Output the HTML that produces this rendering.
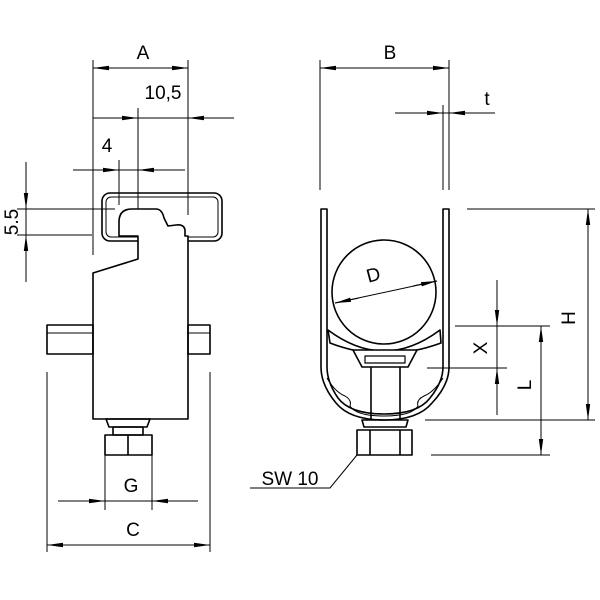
<!DOCTYPE html>
<html><head><meta charset="utf-8"><style>
html,body{margin:0;padding:0;background:#fff;width:600px;height:600px;overflow:hidden}
svg{display:block}
text{font-family:"Liberation Sans",sans-serif;font-size:19px;fill:#000}
</style></head><body>
<svg width="600" height="600" viewBox="0 0 600 600" xmlns="http://www.w3.org/2000/svg">
<defs>
<marker id="a" viewBox="0 0 16 6" refX="16" refY="3" markerWidth="16" markerHeight="6" markerUnits="userSpaceOnUse" orient="auto"><path d="M0,0.8 L16,3 L0,5.2 Z" fill="#000"/></marker>
</defs>
<g stroke="#000" stroke-width="1" fill="none">
<line x1="93" y1="60" x2="93" y2="255"/>
<line x1="188" y1="60" x2="188" y2="215"/>
<line x1="93" y1="68" x2="188" y2="68"/>
<line x1="117" y1="68" x2="93" y2="68" marker-end="url(#a)"/>
<line x1="164" y1="68" x2="188" y2="68" marker-end="url(#a)"/>
<line x1="93" y1="118" x2="234" y2="118"/>
<line x1="112" y1="118" x2="138" y2="118" marker-end="url(#a)"/>
<line x1="214" y1="118" x2="188" y2="118" marker-end="url(#a)"/>
<line x1="138" y1="108" x2="138" y2="220"/>
<line x1="73" y1="170" x2="185" y2="170"/>
<line x1="95" y1="170" x2="119" y2="170" marker-end="url(#a)"/>
<line x1="162" y1="170" x2="138" y2="170" marker-end="url(#a)"/>
<line x1="119" y1="160" x2="119" y2="205"/>
<line x1="26" y1="162" x2="26" y2="282"/>
<line x1="26" y1="185" x2="26" y2="209" marker-end="url(#a)"/>
<line x1="26" y1="259" x2="26" y2="235" marker-end="url(#a)"/>
<line x1="17" y1="209" x2="115" y2="209"/>
<line x1="17" y1="235" x2="92" y2="235"/>
<line x1="58" y1="501" x2="198" y2="501"/>
<line x1="81" y1="501" x2="105" y2="501" marker-end="url(#a)"/>
<line x1="176" y1="501" x2="152" y2="501" marker-end="url(#a)"/>
<line x1="105" y1="455" x2="105" y2="510"/>
<line x1="152" y1="455" x2="152" y2="510"/>
<line x1="47" y1="372" x2="47" y2="552"/>
<line x1="210" y1="372" x2="210" y2="552"/>
<line x1="47" y1="545" x2="210" y2="545"/>
<line x1="71" y1="545" x2="47" y2="545" marker-end="url(#a)"/>
<line x1="186" y1="545" x2="210" y2="545" marker-end="url(#a)"/>
</g>
<g stroke="#000" stroke-width="1.6" fill="none" stroke-linejoin="round">
<rect x="102" y="193" width="120" height="48" rx="8"/>
<rect x="106" y="197" width="112" height="40" rx="5" stroke-width="1"/>
<path d="M93,419 L93,273 L138,259 L138,236 L119,236 L119,222 Q119,209 132,209 L156,209 Q162,209 164,218 L168,226 L176,225 Q184,224 185,230 L185,236 L188,236 L188,419 Z" fill="#fff"/>
<rect x="47" y="325" width="46" height="29"/><line x1="47" y1="333" x2="93" y2="333" stroke-width="1"/>
<rect x="188" y="325" width="22" height="29"/><line x1="188" y1="333" x2="210" y2="333" stroke-width="1"/>
<path d="M106,419 L150,419 L147,427 L109,427 Z"/>
<rect x="113" y="427" width="30" height="8"/>
<rect x="105" y="435" width="47" height="20"/>
<line x1="128" y1="435" x2="128" y2="455"/>
</g>
<text x="143" y="59" text-anchor="middle">A</text>
<text x="163" y="99" text-anchor="middle">10,5</text>
<text x="107" y="152" text-anchor="middle">4</text>
<text transform="translate(18,222) rotate(-90)" text-anchor="middle">5.5</text>
<text x="131" y="492" text-anchor="middle">G</text>
<text x="133" y="536" text-anchor="middle">C</text>

<g stroke="#000" stroke-width="1" fill="none">
<line x1="320" y1="60" x2="320" y2="190"/>
<line x1="449" y1="60" x2="449" y2="190"/>
<line x1="320" y1="68" x2="449" y2="68"/>
<line x1="344" y1="68" x2="320" y2="68" marker-end="url(#a)"/>
<line x1="425" y1="68" x2="449" y2="68" marker-end="url(#a)"/>
<line x1="443" y1="105" x2="443" y2="190"/>
<line x1="395" y1="113" x2="495" y2="113"/>
<line x1="419" y1="113" x2="443" y2="113" marker-end="url(#a)"/>
<line x1="473" y1="113" x2="449" y2="113" marker-end="url(#a)"/>
<line x1="467" y1="209" x2="595" y2="209"/>
<line x1="425" y1="420" x2="595" y2="420"/>
<line x1="588" y1="209" x2="588" y2="420" />
<line x1="588" y1="233" x2="588" y2="209" marker-end="url(#a)"/>
<line x1="588" y1="396" x2="588" y2="420" marker-end="url(#a)"/>
<line x1="455" y1="326" x2="550" y2="326"/>
<line x1="427" y1="368" x2="507" y2="368"/>
<line x1="431" y1="455" x2="550" y2="455"/>
<line x1="497" y1="280" x2="497" y2="415"/>
<line x1="497" y1="302" x2="497" y2="326" marker-end="url(#a)"/>
<line x1="497" y1="392" x2="497" y2="368" marker-end="url(#a)"/>
<line x1="541" y1="326" x2="541" y2="455"/>
<line x1="541" y1="350" x2="541" y2="326" marker-end="url(#a)"/>
<line x1="541" y1="431" x2="541" y2="455" marker-end="url(#a)"/>
<polyline points="357,455 330,488 250,488"/>
</g>
<g stroke="#000" stroke-width="1.6" fill="none" stroke-linejoin="round">
<path d="M321,209 L321,367 Q321,385 336,403 Q350,420 384,420 Q418,420 432,403 Q449,385 449,367 L449,209 L443,209 L443,367 Q443,382 430,398 Q418,414 384,414 Q350,414 338,398 Q327,382 327,367 L327,209 Z"/>
<path d="M327,378 Q335,392 345,396 Q352,400 350,406 Q356,416 384,416 Q412,416 418,406 Q416,400 424,396 Q434,392 443,378" stroke-width="1"/>
<circle cx="384" cy="292" r="52" fill="#fff"/>
<path d="M328,330 Q384,372 440,330 L441,343 Q384,364 330,343 Z" fill="#fff"/>
<path d="M353,350 L417,350 L408,367 L362,367 Z" fill="#fff"/>
<rect x="365" y="356" width="40" height="7" stroke-width="1.2"/>
<line x1="371" y1="367" x2="371" y2="420"/>
<line x1="400" y1="367" x2="400" y2="420"/>
<path d="M362,420 L408,420 L406,427 L364,427 Z"/>
<rect x="357" y="430" width="55" height="25"/>
<line x1="370" y1="430" x2="370" y2="455"/>
<line x1="400" y1="430" x2="400" y2="455"/>
</g>
<g stroke="#000" stroke-width="1" fill="none">
<line x1="335" y1="303" x2="437" y2="281"/>
<line x1="359" y1="298" x2="335" y2="303" marker-end="url(#a)"/>
<line x1="413" y1="286" x2="437" y2="281" marker-end="url(#a)"/>
</g>
<text x="390" y="59" text-anchor="middle">B</text>
<text x="487" y="105" text-anchor="middle">t</text>
<text transform="translate(575,318) rotate(-90)" text-anchor="middle">H</text>
<text transform="translate(487,348) rotate(-90)" text-anchor="middle">X</text>
<text transform="translate(531,385) rotate(-90)" text-anchor="middle">L</text>
<text transform="translate(375,281) rotate(-15)" text-anchor="middle">D</text>
<text x="290" y="485" text-anchor="middle">SW 10</text>
</svg>
</body></html>
